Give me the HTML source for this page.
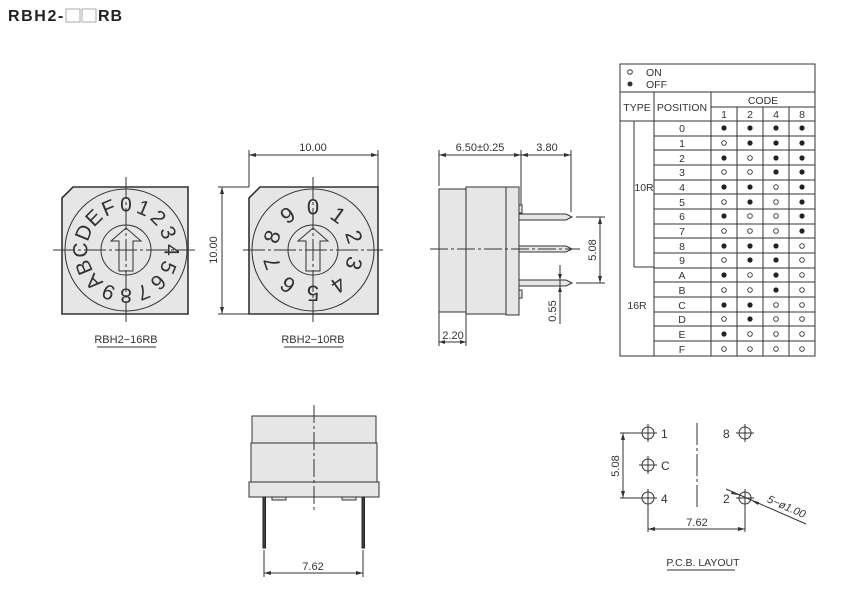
<!DOCTYPE html>
<html><head><meta charset="utf-8"><style>
html,body{margin:0;padding:0;background:#fff;}
svg{display:block;font-family:"Liberation Sans",sans-serif;}
</style></head><body>
<svg width="864" height="610" viewBox="0 0 864 610" xmlns="http://www.w3.org/2000/svg">
<!-- title -->
<text x="8" y="21" font-size="16" font-weight="bold" fill="#222" letter-spacing="1.6">RBH2-</text>
<rect x="66" y="9" width="14" height="13" fill="#fff" stroke="#aaa" stroke-width="1"/>
<rect x="82" y="9" width="14" height="13" fill="#fff" stroke="#aaa" stroke-width="1"/>
<text x="98" y="21" font-size="16" font-weight="bold" fill="#222" letter-spacing="1">RB</text>

<g stroke="#333" fill="none" stroke-width="1">
<path d="M73,187 L188,187 L188,314 L62,314 L62,198 Z" fill="#e6e6e6" stroke-width="1.6"/>
<circle cx="126" cy="250" r="61"/>
<circle cx="126" cy="250" r="25"/>
<path d="M126,228 L141,241 L133,241 L133,271 L119,271 L119,241 L111,241 Z" fill="#e6e6e6"/>
<line x1="53" y1="250" x2="195" y2="250" stroke-dasharray="22,3,3,3"/>
<line x1="126" y1="177" x2="126" y2="322" stroke-dasharray="22,3,3,3"/>

<path d="M260,187 L378,187 L378,314 L249,314 L249,198 Z" fill="#e6e6e6" stroke-width="1.6"/>
<circle cx="313" cy="250" r="61"/>
<circle cx="313" cy="250" r="25"/>
<path d="M313,228 L328,241 L320,241 L320,271 L306,271 L306,241 L298,241 Z" fill="#e6e6e6"/>
<line x1="243" y1="250" x2="383" y2="250" stroke-dasharray="22,3,3,3"/>
<line x1="313" y1="177" x2="313" y2="322" stroke-dasharray="22,3,3,3"/>
<line x1="249" y1="150" x2="249" y2="187"/>
<line x1="378" y1="150" x2="378" y2="187"/>
<line x1="249" y1="155" x2="378" y2="155"/>
<line x1="218" y1="187" x2="249" y2="187"/>
<line x1="218" y1="314" x2="249" y2="314"/>
<line x1="222" y1="187" x2="222" y2="314"/>
</g>
<g fill="#333">
<path d="M249,155 l7,-2 v4 z M378,155 l-7,-2 v4 z M222,187 l-2,7 h4 z M222,314 l-2,-7 h4 z"/>
</g>
<g font-size="11" fill="#333" text-anchor="middle">
<text x="313" y="151">10.00</text>
<text transform="translate(217,250) rotate(-90)">10.00</text>
<text x="126" y="343">RBH2−16RB</text>
<text x="313" y="343">RBH2−10RB</text>
</g>
<line x1="97" y1="347" x2="156" y2="347" stroke="#333"/>
<line x1="284" y1="347" x2="343" y2="347" stroke="#333"/>

<g font-size="21" fill="#333" text-anchor="middle" dominant-baseline="central">
<text x="126" y="205" transform="rotate(0 126 250)">0</text>
<text x="126" y="205" transform="rotate(22.5 126 250)">1</text>
<text x="126" y="205" transform="rotate(45 126 250)">2</text>
<text x="126" y="205" transform="rotate(67.5 126 250)">3</text>
<text x="126" y="205" transform="rotate(90 126 250)">4</text>
<text x="126" y="205" transform="rotate(112.5 126 250)">5</text>
<text x="126" y="205" transform="rotate(135 126 250)">6</text>
<text x="126" y="205" transform="rotate(157.5 126 250)">7</text>
<text x="126" y="205" transform="rotate(180 126 250)">8</text>
<text x="126" y="205" transform="rotate(202.5 126 250)">9</text>
<text x="126" y="205" transform="rotate(225 126 250)">A</text>
<text x="126" y="205" transform="rotate(247.5 126 250)">B</text>
<text x="126" y="205" transform="rotate(270 126 250)">C</text>
<text x="126" y="205" transform="rotate(292.5 126 250)">D</text>
<text x="126" y="205" transform="rotate(315 126 250)">E</text>
<text x="126" y="205" transform="rotate(337.5 126 250)">F</text>
</g>
<g font-size="22" fill="#333" text-anchor="middle" dominant-baseline="central">
<text x="313" y="207" transform="rotate(0 313 250)">0</text>
<text x="313" y="207" transform="rotate(36 313 250)">1</text>
<text x="313" y="207" transform="rotate(72 313 250)">2</text>
<text x="313" y="207" transform="rotate(108 313 250)">3</text>
<text x="313" y="207" transform="rotate(144 313 250)">4</text>
<text x="313" y="207" transform="rotate(180 313 250)">5</text>
<text x="313" y="207" transform="rotate(216 313 250)">6</text>
<text x="313" y="207" transform="rotate(252 313 250)">7</text>
<text x="313" y="207" transform="rotate(288 313 250)">8</text>
<text x="313" y="207" transform="rotate(324 313 250)">9</text>
</g>

<g stroke="#333" fill="#e6e6e6" stroke-width="1">
<rect x="439" y="189" width="27" height="123"/>
<rect x="466" y="187" width="40" height="127"/>
<rect x="506" y="187" width="13" height="128"/>
<rect x="519" y="205" width="3" height="8"/>
<rect x="519" y="290" width="3" height="8"/>
<path d="M519,214 L566,214 L572,217 L566,220 L519,220 Z"/>
<path d="M519,246 L566,246 L572,249 L566,252 L519,252 Z"/>
<path d="M519,280 L566,280 L572,283 L566,286 L519,286 Z"/>
</g>
<g stroke="#333" fill="none" stroke-width="1">
<line x1="430" y1="249" x2="580" y2="249" stroke-dasharray="18,3,3,3"/>
<line x1="439" y1="150" x2="439" y2="186"/>
<line x1="521" y1="150" x2="521" y2="205"/>
<line x1="571" y1="150" x2="571" y2="212"/>
<line x1="439" y1="155" x2="571" y2="155"/>
<line x1="576" y1="217" x2="605" y2="217"/>
<line x1="576" y1="283" x2="605" y2="283"/>
<line x1="600" y1="217" x2="600" y2="283"/>
<line x1="560" y1="265" x2="560" y2="324"/>
<line x1="439" y1="312" x2="439" y2="346"/>
<line x1="466" y1="314" x2="466" y2="346"/>
<line x1="439" y1="342" x2="466" y2="342"/>
</g>
<g fill="#333">
<path d="M439,155 l7,-2 v4 z M521,155 l-7,-2 v4 z M521,155 l7,-2 v4 z M571,155 l-7,-2 v4 z M600,217 l-2,7 h4 z M600,283 l-2,-7 h4 z M560,280 l-2,-6 h4 z M560,286 l-2,6 h4 z M439,342 l6,-2 v4 z M466,342 l-6,-2 v4 z"/>
</g>
<g font-size="11" fill="#333" text-anchor="middle">
<text x="480" y="151">6.50±0.25</text>
<text x="547" y="151">3.80</text>
<text transform="translate(596,250) rotate(-90)">5.08</text>
<text transform="translate(556,311) rotate(-90)">0.55</text>
<text x="453" y="339">2.20</text>
</g>

<g stroke="#333" fill="none" stroke-width="1">
<rect x="620" y="64" width="195" height="292"/>
<line x1="620" y1="92" x2="815" y2="92"/>
<line x1="711" y1="107" x2="815" y2="107"/>
<line x1="620" y1="121" x2="815" y2="121"/>
<line x1="654" y1="92" x2="654" y2="356"/>
<line x1="711" y1="92" x2="711" y2="356"/>
<line x1="737" y1="107" x2="737" y2="356"/>
<line x1="763" y1="107" x2="763" y2="356"/>
<line x1="789" y1="107" x2="789" y2="356"/>
<line x1="634" y1="121" x2="634" y2="267"/>
<line x1="634" y1="267" x2="654" y2="267"/>
<path d="M654,136H815M654,150H815M654,165H815M654,180H815M654,194H815M654,209H815M654,224H815M654,238H815M654,253H815M654,268H815M654,282H815M654,297H815M654,312H815M654,326H815M654,341H815"/>
</g>
<g font-size="10.5" fill="#333" text-anchor="middle">
<text x="646" y="76" text-anchor="start">ON</text>
<text x="646" y="88" text-anchor="start">OFF</text>
<text x="637" y="111">TYPE</text>
<text x="682" y="111">POSITION</text>
<text x="763" y="104">CODE</text>
<text x="724" y="118">1</text><text x="750" y="118">2</text><text x="776" y="118">4</text><text x="802" y="118">8</text>
<text x="644" y="191">10R</text>
<text x="637" y="309">16R</text>
<text x="682" y="132">0</text><text x="682" y="147">1</text><text x="682" y="162">2</text><text x="682" y="176">3</text>
<text x="682" y="191">4</text><text x="682" y="206">5</text><text x="682" y="220">6</text><text x="682" y="235">7</text>
<text x="682" y="250">8</text><text x="682" y="264">9</text><text x="682" y="279">A</text><text x="682" y="294">B</text>
<text x="682" y="309">C</text><text x="682" y="323">D</text><text x="682" y="338">E</text><text x="682" y="353">F</text>
</g>
<circle cx="630" cy="72" r="2.3" fill="none" stroke="#333"/>
<circle cx="630" cy="84" r="2.5" fill="#333"/>
<g fill="#222">
<circle cx="724" cy="128" r="2.6"/><circle cx="750" cy="128" r="2.6"/><circle cx="776" cy="128" r="2.6"/><circle cx="802" cy="128" r="2.6"/>
<circle cx="750" cy="143" r="2.6"/><circle cx="776" cy="143" r="2.6"/><circle cx="802" cy="143" r="2.6"/>
<circle cx="724" cy="158" r="2.6"/><circle cx="776" cy="158" r="2.6"/><circle cx="802" cy="158" r="2.6"/>
<circle cx="776" cy="172" r="2.6"/><circle cx="802" cy="172" r="2.6"/>
<circle cx="724" cy="187" r="2.6"/><circle cx="750" cy="187" r="2.6"/><circle cx="802" cy="187" r="2.6"/>
<circle cx="750" cy="202" r="2.6"/><circle cx="802" cy="202" r="2.6"/>
<circle cx="724" cy="216" r="2.6"/><circle cx="802" cy="216" r="2.6"/>
<circle cx="802" cy="231" r="2.6"/>
<circle cx="724" cy="246" r="2.6"/><circle cx="750" cy="246" r="2.6"/><circle cx="776" cy="246" r="2.6"/>
<circle cx="750" cy="260" r="2.6"/><circle cx="776" cy="260" r="2.6"/>
<circle cx="724" cy="275" r="2.6"/><circle cx="776" cy="275" r="2.6"/>
<circle cx="776" cy="290" r="2.6"/>
<circle cx="724" cy="305" r="2.6"/><circle cx="750" cy="305" r="2.6"/>
<circle cx="750" cy="319" r="2.6"/>
<circle cx="724" cy="334" r="2.6"/>
</g>
<g fill="none" stroke="#333" stroke-width="0.9">
<circle cx="724" cy="143" r="2.3"/>
<circle cx="750" cy="158" r="2.3"/>
<circle cx="724" cy="172" r="2.3"/><circle cx="750" cy="172" r="2.3"/>
<circle cx="776" cy="187" r="2.3"/>
<circle cx="724" cy="202" r="2.3"/><circle cx="776" cy="202" r="2.3"/>
<circle cx="750" cy="216" r="2.3"/><circle cx="776" cy="216" r="2.3"/>
<circle cx="724" cy="231" r="2.3"/><circle cx="750" cy="231" r="2.3"/><circle cx="776" cy="231" r="2.3"/>
<circle cx="802" cy="246" r="2.3"/>
<circle cx="724" cy="260" r="2.3"/><circle cx="802" cy="260" r="2.3"/>
<circle cx="750" cy="275" r="2.3"/><circle cx="802" cy="275" r="2.3"/>
<circle cx="724" cy="290" r="2.3"/><circle cx="750" cy="290" r="2.3"/><circle cx="802" cy="290" r="2.3"/>
<circle cx="776" cy="305" r="2.3"/><circle cx="802" cy="305" r="2.3"/>
<circle cx="724" cy="319" r="2.3"/><circle cx="776" cy="319" r="2.3"/><circle cx="802" cy="319" r="2.3"/>
<circle cx="750" cy="334" r="2.3"/><circle cx="776" cy="334" r="2.3"/><circle cx="802" cy="334" r="2.3"/>
<circle cx="724" cy="349" r="2.3"/><circle cx="750" cy="349" r="2.3"/><circle cx="776" cy="349" r="2.3"/><circle cx="802" cy="349" r="2.3"/>
</g>

<g stroke="#333" fill="#e6e6e6" stroke-width="1">
<rect x="252" y="416" width="124" height="27"/>
<rect x="251" y="443" width="126" height="39"/>
<rect x="249" y="482" width="130" height="15"/>
<rect x="272" y="497" width="14" height="3"/>
<rect x="342" y="497" width="14" height="3"/>
</g>
<g stroke="#222" stroke-width="1">
<rect x="263" y="497" width="2.5" height="51" fill="#444"/>
<rect x="362" y="497" width="2.5" height="51" fill="#444"/>
</g>
<g stroke="#333" fill="none" stroke-width="1">
<line x1="314" y1="405" x2="314" y2="512" stroke-dasharray="18,3,3,3"/>
<line x1="264" y1="550" x2="264" y2="577"/>
<line x1="363" y1="550" x2="363" y2="577"/>
<line x1="264" y1="573" x2="363" y2="573"/>
</g>
<path d="M264,573 l7,-2 v4 z M363,573 l-7,-2 v4 z" fill="#333"/>
<text x="313" y="570" font-size="11" fill="#333" text-anchor="middle">7.62</text>

<g stroke="#333" fill="none" stroke-width="1">
<circle cx="648" cy="433" r="6"/><path d="M639,433H657M648,424V442"/>
<circle cx="648" cy="465" r="6"/><path d="M639,465H657M648,456V474"/>
<circle cx="648" cy="498" r="6"/><path d="M639,498H657M648,489V507"/>
<circle cx="745" cy="433" r="6"/><path d="M736,433H754M745,424V442"/>
<circle cx="745" cy="498" r="6"/><path d="M736,498H754M745,489V507"/>
<line x1="697" y1="423" x2="697" y2="508" stroke-dasharray="22,3,3,3"/>
<line x1="620" y1="433" x2="640" y2="433"/>
<line x1="620" y1="498" x2="640" y2="498"/>
<line x1="623" y1="433" x2="623" y2="498"/>
<line x1="648" y1="505" x2="648" y2="532"/>
<line x1="745" y1="505" x2="745" y2="532"/>
<line x1="648" y1="529" x2="745" y2="529"/>
<line x1="726" y1="489" x2="806" y2="524"/>
</g>
<path d="M623,433 l-2,7 h4 z M623,498 l-2,-7 h4 z M648,529 l7,-2 v4 z M745,529 l-7,-2 v4 z M739,495 l-7,-4 l-1,3 z M751,500 l7,5 l1,-3 z" fill="#333"/>
<g font-size="12" fill="#333">
<text x="661" y="438">1</text>
<text x="661" y="470">C</text>
<text x="661" y="503">4</text>
<text x="723" y="438">8</text>
<text x="723" y="503">2</text>
</g>
<g font-size="11" fill="#333" text-anchor="middle">
<text transform="translate(619,466) rotate(-90)">5.08</text>
<text x="697" y="526">7.62</text>
<text transform="translate(785,510) rotate(24)" font-style="italic">5−ø1.00</text>
<text x="703" y="566" font-size="10.5">P.C.B.  LAYOUT</text>
</g>
<line x1="667" y1="570" x2="735" y2="570" stroke="#333"/>
</svg>
</body></html>
